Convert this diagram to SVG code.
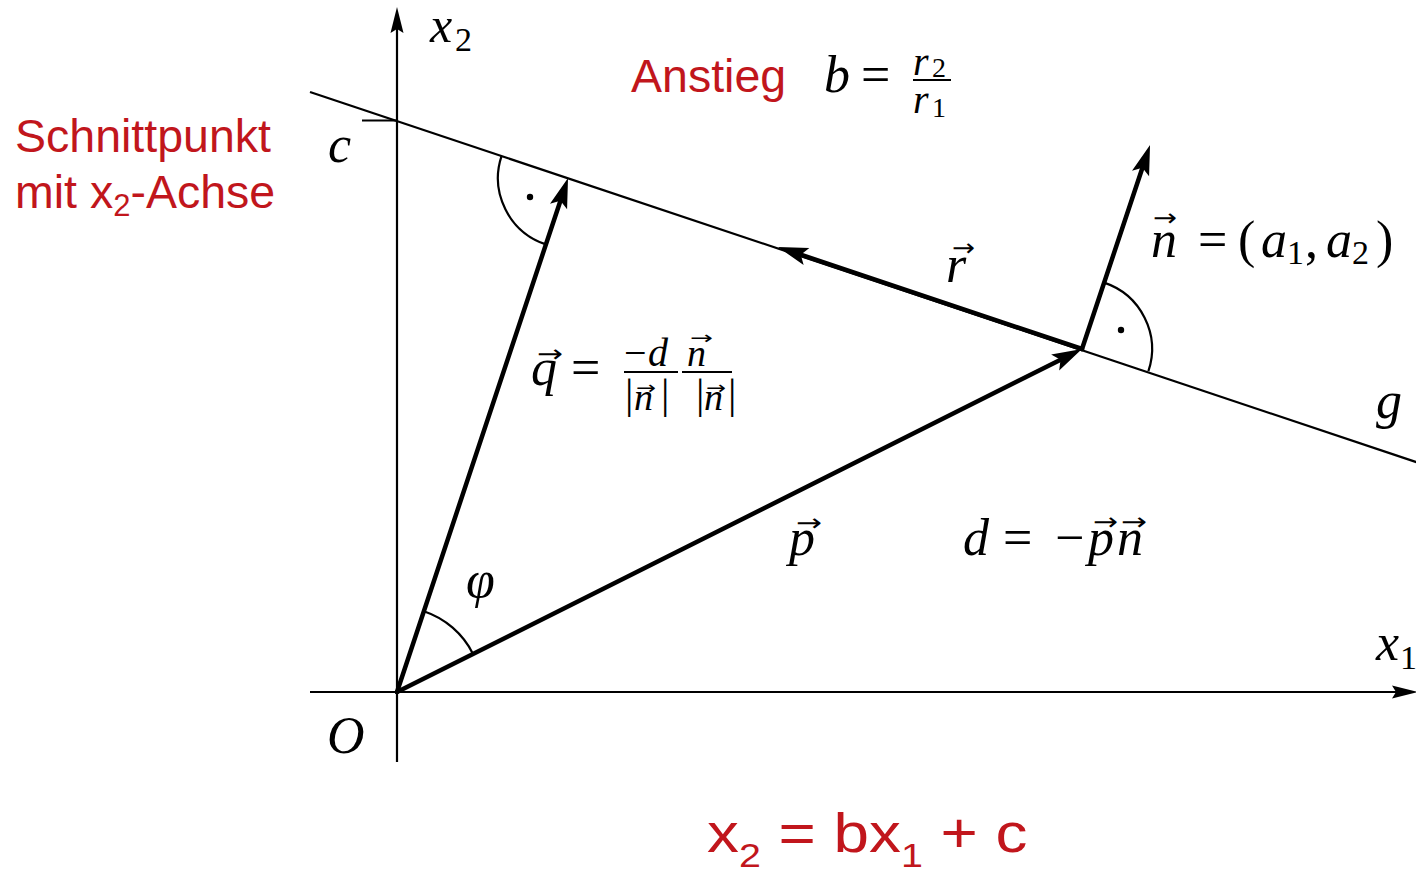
<svg xmlns="http://www.w3.org/2000/svg" width="1416" height="873" viewBox="0 0 1416 873">
<style>
.ln{stroke:#000;stroke-width:2.2;fill:none}
.vec{stroke:#000;stroke-width:4.5;fill:none;stroke-linecap:round}
.bar{stroke:#000;stroke-width:2.2}
.m{font-family:"Liberation Serif",serif;font-style:italic;fill:#000}
.u{font-family:"Liberation Serif",serif;font-style:normal;fill:#000}
.r{font-family:"Liberation Sans",Arial,sans-serif;fill:#c1161c}
.va{font-family:"DejaVu Sans",sans-serif;font-style:normal;fill:#000}
</style>
<defs>
<marker id="ah" viewBox="-12 -10 34 20" refX="0" refY="0" markerWidth="34" markerHeight="20" markerUnits="userSpaceOnUse" orient="auto">
<path d="M20,0 L-10,-9 L-4,0 L-10,9 Z" fill="#000"/>
</marker>
<marker id="ax" viewBox="-8 -8 30 16" refX="0" refY="0" markerWidth="30" markerHeight="16" markerUnits="userSpaceOnUse" orient="auto">
<path d="M20,0 L-6,-6.5 L-2,0 L-6,6.5 Z" fill="#000"/>
</marker>
</defs>
<rect width="1416" height="873" fill="#fff"/>

<g id="axes">
<line class="ln" x1="397" y1="762" x2="397" y2="27" marker-end="url(#ax)"/>
<line class="ln" x1="310" y1="692" x2="1398" y2="692" marker-end="url(#ax)"/>
<line class="ln" x1="362" y1="120.5" x2="397" y2="120.5"/>
</g>

<g id="line-g">
<line class="ln" x1="310" y1="92" x2="1422" y2="464"/>
</g>

<g id="angles">
<path class="ln" d="M501.6,155.8 A70,70 0 0 0 545.9,244.4"/>
<circle cx="530" cy="197" r="3.2" fill="#000"/>
<path class="ln" d="M1104.1,282.6 A70,70 0 0 1 1148.4,371.2"/>
<circle cx="1121" cy="330" r="3.2" fill="#000"/>
<path class="ln" d="M423.8,611.3 A85,85 0 0 1 473.0,653.9"/>
</g>

<g id="connectors">
<line class="vec" x1="397" y1="692" x2="1064.1" y2="358" marker-end="url(#ah)"/>
<line class="vec" x1="397" y1="692" x2="561.7" y2="197" marker-end="url(#ah)"/>
<line class="vec" x1="1082" y1="349" x2="1143.7" y2="164" marker-end="url(#ah)"/>
<line class="vec" x1="1082" y1="349" x2="797" y2="253.4" marker-end="url(#ah)"/>
</g>

<g id="axis-labels">
<text class="m" x="430" y="42" style="font-size:50px">x</text><text class="u" x="455" y="51" style="font-size:34px">2</text>
<text class="m" x="1376" y="660" style="font-size:52px">x</text><text class="u" x="1400" y="669" style="font-size:34px">1</text>
<text class="m" x="328" y="162" style="font-size:52px">c</text>
<text class="m" x="327" y="753" style="font-size:52px">O</text>
<text class="m" x="1376" y="418" style="font-size:52px">g</text>
<text class="m" x="466" y="597" style="font-size:52px">φ</text>
</g>

<g id="label-schnittpunkt">
<text class="r" x="15" y="152" style="font-size:46.5px">Schnittpunkt</text>
<text class="r" x="15" y="208" style="font-size:46.5px">mit x<tspan style="font-size:31px" dy="8">2</tspan><tspan dy="-8">-Achse</tspan></text>
</g>

<g id="label-anstieg">
<text class="r" x="631" y="92" style="font-size:46.5px">Anstieg</text>
<text class="m" x="824" y="92" style="font-size:52px">b</text>
<text class="u" x="861" y="92" style="font-size:52px">=</text>
<line class="bar" x1="913" y1="80" x2="951" y2="80"/>
<text class="m" x="913" y="75" style="font-size:40px">r</text><text class="u" x="932" y="77" style="font-size:28px">2</text>
<text class="m" x="913" y="113" style="font-size:40px">r</text><text class="u" x="932" y="117" style="font-size:28px">1</text>
</g>

<g id="label-n">
<text class="m" x="1151" y="257" style="font-size:52px">n</text>
<text class="va" x="1153" y="226" style="font-size:24px" textLength="24" lengthAdjust="spacingAndGlyphs">→</text>
<text class="u" x="1198" y="257" style="font-size:52px">=</text>
<text class="u" x="1238" y="257" style="font-size:52px">(</text>
<text class="m" x="1261" y="257" style="font-size:52px">a</text>
<text class="u" x="1287" y="264" style="font-size:34px">1</text>
<text class="u" x="1305" y="257" style="font-size:52px">,</text>
<text class="m" x="1326" y="257" style="font-size:52px">a</text>
<text class="u" x="1352" y="264" style="font-size:34px">2</text>
<text class="u" x="1376" y="257" style="font-size:52px">)</text>
</g>

<g id="label-r">
<text class="m" x="946" y="282" style="font-size:52px">r</text>
<text class="va" x="952" y="256" style="font-size:24px" textLength="23" lengthAdjust="spacingAndGlyphs">→</text>
</g>

<g id="label-p">
<text class="m" x="789" y="555" style="font-size:52px">p</text>
<text class="va" x="796" y="531" style="font-size:24px" textLength="26" lengthAdjust="spacingAndGlyphs">→</text>
</g>

<g id="label-d">
<text class="m" x="963" y="555" style="font-size:52px">d</text>
<text class="u" x="1003" y="555" style="font-size:52px">=</text>
<text class="u" x="1055" y="555" style="font-size:52px">−</text>
<text class="m" x="1088" y="555" style="font-size:52px">p</text>
<text class="va" x="1093" y="530" style="font-size:24px" textLength="25" lengthAdjust="spacingAndGlyphs">→</text>
<text class="m" x="1117" y="555" style="font-size:52px">n</text>
<text class="va" x="1121" y="530" style="font-size:24px" textLength="26" lengthAdjust="spacingAndGlyphs">→</text>
</g>

<g id="label-q">
<text class="m" x="531" y="385" style="font-size:52px">q</text>
<text class="va" x="537" y="362" style="font-size:24px" textLength="26" lengthAdjust="spacingAndGlyphs">→</text>
<text class="u" x="571" y="385" style="font-size:52px">=</text>
<text class="u" x="624" y="366" style="font-size:40px">−</text>
<text class="m" x="648" y="366" style="font-size:40px">d</text>
<line class="bar" x1="624" y1="372" x2="678" y2="372"/>
<text class="u" x="625" y="408" style="font-size:42px">|</text>
<text class="m" x="634" y="410" style="font-size:38px">n</text>
<text class="va" x="636" y="394" style="font-size:18px" textLength="20" lengthAdjust="spacingAndGlyphs">→</text>
<text class="u" x="661" y="408" style="font-size:42px">|</text>
<text class="m" x="687" y="366" style="font-size:38px">n</text>
<text class="va" x="690" y="344" style="font-size:18px" textLength="23" lengthAdjust="spacingAndGlyphs">→</text>
<line class="bar" x1="682" y1="372" x2="732" y2="372"/>
<text class="u" x="696" y="408" style="font-size:42px">|</text>
<text class="m" x="704" y="410" style="font-size:38px">n</text>
<text class="va" x="706" y="394" style="font-size:18px" textLength="20" lengthAdjust="spacingAndGlyphs">→</text>
<text class="u" x="728" y="408" style="font-size:42px">|</text>
</g>

<g id="label-equation">
<text class="r" style="font-size:55px" transform="translate(707,852) scale(1.16,1)">x<tspan style="font-size:34px" dy="15">2</tspan><tspan dy="-15"> = bx</tspan><tspan style="font-size:34px" dy="15">1</tspan><tspan dy="-15"> + c</tspan></text>
</g>
</svg>
